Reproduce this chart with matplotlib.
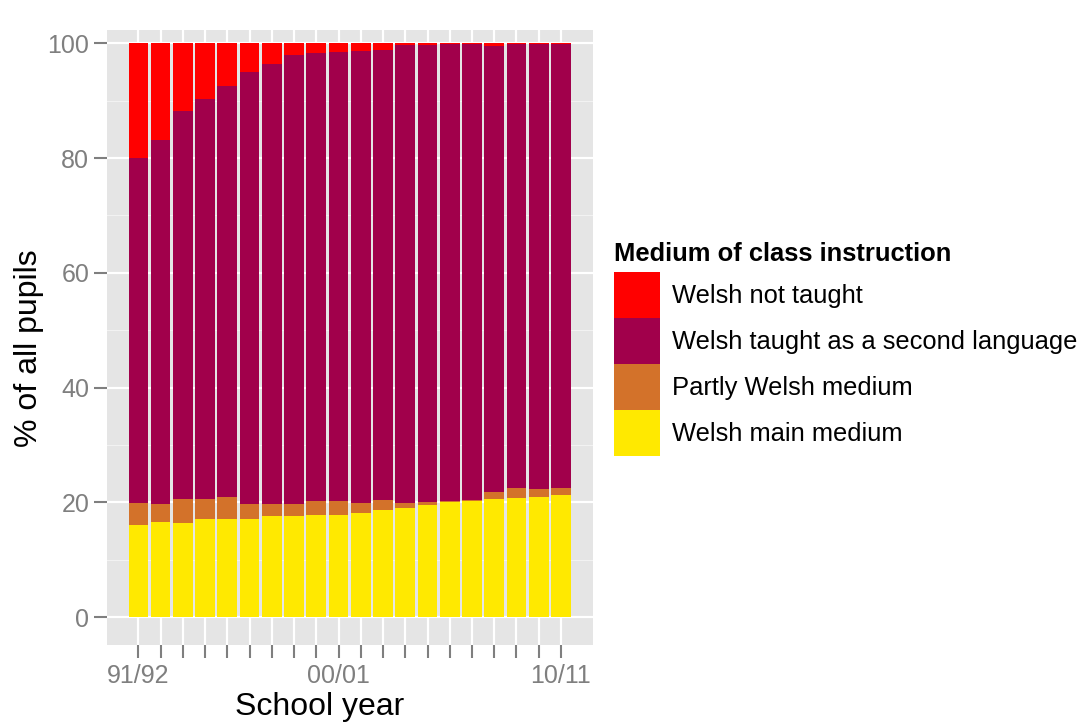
import numpy as np
import matplotlib
matplotlib.use("Agg")
import matplotlib.pyplot as plt
from matplotlib.ticker import MultipleLocator

# School years, 91/92 .. 10/11
years = ['91/92', '92/93', '93/94', '94/95', '95/96', '96/97', '97/98', '98/99', '99/00', '00/01',
         '01/02', '02/03', '03/04', '04/05', '05/06', '06/07', '07/08', '08/09', '09/10', '10/11']
shown_labels = ['91/92', '00/01', '10/11']

# % of pupils by medium of class instruction
main_medium = [16.1, 16.6, 16.4, 17.1, 17.2, 17.2, 17.7, 17.7, 17.8, 17.9,
               18.1, 18.7, 19.1, 19.6, 20.1, 20.3, 20.6, 20.8, 21.0, 21.3]
partly_welsh = [3.8, 3.2, 4.2, 3.5, 3.8, 2.6, 2.1, 2.1, 2.5, 2.4,
                1.8, 1.8, 0.8, 0.5, 0.2, 0.2, 1.3, 1.8, 1.3, 1.2]
second_lang = [60.1, 63.3, 67.6, 69.6, 71.5, 75.2, 76.6, 78.1, 78.0, 78.1,
               78.8, 78.3, 79.75, 79.55, 79.5, 79.3, 77.6, 77.3, 77.65, 77.45]
not_taught = [20.0, 16.9, 11.8, 9.8, 7.5, 5.0, 3.6, 2.1, 1.7, 1.6,
              1.3, 1.2, 0.35, 0.35, 0.2, 0.2, 0.5, 0.1, 0.05, 0.05]

series = [
    ('Welsh main medium', main_medium, '#FFE900'),
    ('Partly Welsh medium', partly_welsh, '#D3722A'),
    ('Welsh taught as a second language', second_lang, '#A1004B'),
    ('Welsh not taught', not_taught, '#FF0000'),
]

plt.rcParams['font.family'] = ['Liberation Sans', 'DejaVu Sans']
grey = '#7F7F7F'

fig = plt.figure(figsize=(10.79, 7.22), dpi=100)
ax = fig.add_axes([0.0989, 0.1066, 0.4507, 0.8518])
ax.set_facecolor('#E5E5E5')

x = np.arange(len(years))
bottom = np.zeros(len(years))
handles = {}
for nombre, vals, color in series:
    vals = np.array(vals)
    b = ax.bar(x, vals, width=0.88, bottom=bottom, color=color, linewidth=0, label=nombre, zorder=3)
    handles[nombre] = b
    bottom += vals

ax.set_xlim(-1.42, len(years) - 1 + 1.44)
ax.set_ylim(-4.83, 102.3)

ax.set_xticks(x)
ax.set_xticklabels([y if y in shown_labels else '' for y in years])
ax.set_yticks([0, 20, 40, 60, 80, 100])
ax.yaxis.set_minor_locator(MultipleLocator(10))

ax.grid(True, which='major', color='white', linewidth=1.6, zorder=1)
ax.grid(True, which='minor', axis='y', color='#F2F2F2', linewidth=0.8, zorder=1)
ax.set_axisbelow(True)
for s in ax.spines.values():
    s.set_visible(False)

ax.tick_params(axis='both', which='major', colors=grey, labelsize=18, length=9.5, width=1.5, pad=3)
ax.tick_params(axis='x', which='major', pad=4)
ax.tick_params(axis='y', which='minor', length=0)
for lbl in ax.get_xticklabels() + ax.get_yticklabels():
    lbl.set_color(grey)

ax.set_xlabel('School year', fontsize=23)
ax.xaxis.set_label_coords(0.438, -0.077)
ax.set_ylabel('% of all pupils', fontsize=23)
ax.yaxis.set_label_coords(-0.128, 0.483)

orden = ['Welsh not taught', 'Welsh taught as a second language', 'Partly Welsh medium', 'Welsh main medium']
leg = fig.legend([handles[n] for n in orden], orden,
                 loc='upper left', bbox_to_anchor=(0.569, 0.6648),
                 frameon=False, fontsize=18.4, title='Medium of class instruction',
                 title_fontproperties={'weight': 'bold', 'size': 18.4},
                 alignment='left', handlelength=1.80, handleheight=2.39,
                 handletextpad=0.49, labelspacing=0.0, borderpad=0, borderaxespad=0)
# espacio entre el titulo y las claves
leg._legend_box.sep = 4.5

fig.savefig('out.png', dpi=100)
